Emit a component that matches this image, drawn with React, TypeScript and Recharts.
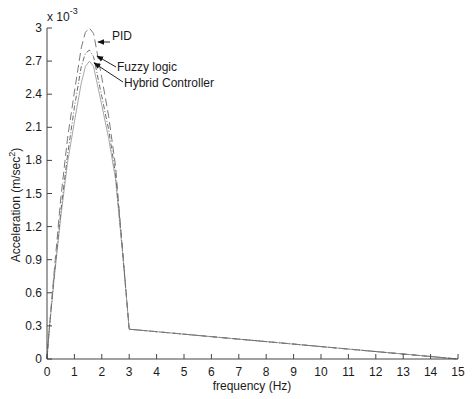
import React from "react"
import { LineChart, Line, XAxis, YAxis } from "recharts"

// frequency samples (Hz) shared by the three responses
const freq = [0, 0.08, 0.25, 0.5, 0.75, 1.0, 1.25, 1.4, 1.55, 1.7, 2.0, 2.25, 2.5, 2.75, 3.0, 15]
// acceleration, in units of 1e-3 m/sec^2
const pid = [0, 0.26, 0.76, 1.45, 2.0, 2.42, 2.82, 2.96, 3.0, 2.95, 2.55, 2.2, 1.75, 1.02, 0.27, 0]
const fuzzy = [0, 0.26, 0.72, 1.33, 1.85, 2.28, 2.65, 2.77, 2.8, 2.74, 2.38, 2.08, 1.68, 1.0, 0.27, 0]
const hybrid = [0, 0.26, 0.7, 1.28, 1.78, 2.15, 2.5, 2.65, 2.7, 2.65, 2.3, 2.0, 1.63, 0.98, 0.27, 0]

const xTicks = [0, 1, 2, 3, 4, 5, 6, 7, 8, 9, 10, 11, 12, 13, 14, 15]
const yTicks = [0, 0.3, 0.6, 0.9, 1.2, 1.5, 1.8, 2.1, 2.4, 2.7, 3]

const data = freq.map((f, i) => ({ f, pid: pid[i], fuzzy: fuzzy[i], hybrid: hybrid[i] }))

const FONT = "'Liberation Sans', Arial, sans-serif"
const INK = "#1a1a1a"
const AX = "#444"

const fmtY = (v: number) => (v === 0 || v === 3 ? String(v) : v.toFixed(1))

const BottomTick = (p: any) => (
  <g>
    <line x1={p.x} x2={p.x} y1={p.y} y2={p.y - 5} stroke={AX} />
    <text x={p.x} y={p.y + 17} textAnchor="middle" fontSize={12} fill={INK} fontFamily={FONT}>{p.payload.value}</text>
  </g>
)
const TopTick = (p: any) => <line x1={p.x} x2={p.x} y1={p.y} y2={p.y + 5} stroke={AX} />
const LeftTick = (p: any) => (
  <g>
    <line x1={p.x} x2={p.x + 5} y1={p.y} y2={p.y} stroke={AX} />
    <text x={p.x - 5} y={p.y + 4} textAnchor="end" fontSize={12} fill={INK} fontFamily={FONT}>{fmtY(p.payload.value)}</text>
  </g>
)
const RightTick = (p: any) => <line x1={p.x} x2={p.x - 5} y1={p.y} y2={p.y} stroke={AX} />

export default function App() {
  return (
    <div style={{ position: "absolute", left: 0, top: 0, width: 474, height: 399, background: "#fff" }}>
      <LineChart width={474} height={399} data={data} margin={{ top: 28, right: 16, bottom: 0, left: 0 }}>
        <XAxis dataKey="f" type="number" domain={[0, 15]} ticks={xTicks} height={40} tickSize={0} tickMargin={0}
          tickLine={false} axisLine={{ stroke: AX }} tick={<BottomTick />} interval={0} />
        <XAxis xAxisId="top" orientation="top" dataKey="f" type="number" domain={[0, 15]} ticks={xTicks} height={0}
          tickSize={0} tickMargin={0} tickLine={false} axisLine={{ stroke: AX }} tick={<TopTick />} interval={0} />
        <YAxis type="number" domain={[0, 3]} ticks={yTicks} width={47} tickSize={0} tickMargin={0}
          tickLine={false} axisLine={{ stroke: AX }} tick={<LeftTick />} interval={0} />
        <YAxis yAxisId="right" orientation="right" type="number" domain={[0, 3]} ticks={yTicks} width={0} tickSize={0}
          tickMargin={0} tickLine={false} axisLine={{ stroke: AX }} tick={<RightTick />} interval={0} />
        <Line type="linear" dataKey="hybrid" stroke="#a8a8a8" strokeWidth={1} dot={false} isAnimationActive={false} />
        <Line type="linear" dataKey="fuzzy" stroke="#6a6a6a" strokeWidth={1} strokeDasharray="5 2 1 2" dot={false} isAnimationActive={false} />
        <Line type="linear" dataKey="pid" stroke="#7a7a7a" strokeWidth={1} strokeDasharray="8 4" dot={false} isAnimationActive={false} />
      </LineChart>

      <svg width={474} height={399} style={{ position: "absolute", left: 0, top: 0, pointerEvents: "none" }} fontFamily={FONT}>
        <defs>
          <marker id="ah" viewBox="0 0 10 10" refX="9" refY="5" markerWidth="7" markerHeight="7" orient="auto">
            <path d="M0,1 L10,5 L0,9 z" fill="#111" />
          </marker>
        </defs>
        <text x={47} y={21} fontSize={12} fill={INK}>x 10<tspan dy={-7} fontSize={9}>-3</tspan></text>

        <text x={112} y={40} fontSize={12} fill={INK}>PID</text>
        <line x1={110} y1={42} x2={98} y2={42} stroke="#222" markerEnd="url(#ah)" />

        <text x={117} y={71} fontSize={12} fill={INK}>Fuzzy logic</text>
        <line x1={116} y1={67} x2={97} y2={56} stroke="#222" markerEnd="url(#ah)" />

        <text x={124} y={87} fontSize={12} fill={INK}>Hybrid Controller</text>
        <line x1={123} y1={82} x2={94} y2={63} stroke="#222" markerEnd="url(#ah)" />

        <text x={252} y={390} fontSize={12} fill={INK} textAnchor="middle">frequency (Hz)</text>
        <text transform="translate(20,205) rotate(-90)" fontSize={12} fill={INK} textAnchor="middle">
          Acceleration (m/sec<tspan dy={-5} fontSize={9}>2</tspan><tspan dy={5}>)</tspan>
        </text>
      </svg>
    </div>
  )
}
